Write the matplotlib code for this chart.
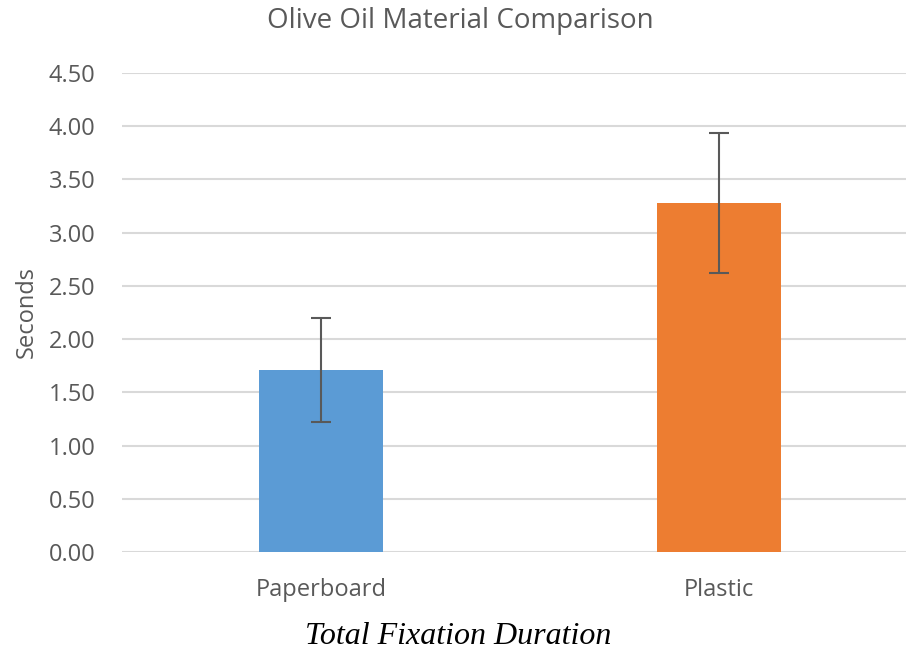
import matplotlib
matplotlib.use("Agg")
import matplotlib.pyplot as plt

categories = ["Paperboard", "Plastic"]
values = [1.71, 3.28]
errors = [0.49, 0.66]
colors = ["#5B9BD5", "#ED7D31"]
yticks = [0.0, 0.5, 1.0, 1.5, 2.0, 2.5, 3.0, 3.5, 4.0, 4.5]

fig = plt.figure(figsize=(9.06, 6.51), dpi=100)
ax = fig.add_axes([122/906, 1-552/651, 796/906, (552-73)/651])

x = list(range(len(categories)))
ax.bar(x, values, width=0.31, color=colors, zorder=2)
ax.errorbar(x, values, yerr=errors, fmt="none", ecolor="#595959",
            elinewidth=1.5, capsize=7, capthick=1.5, zorder=3)

ax.set_xlim(-0.5, 1.5)
ax.set_ylim(0, 4.5)
ax.set_yticks(yticks)
ax.set_yticklabels([f"{v:.2f}" for v in yticks])
ax.set_xticks(x)
ax.set_xticklabels(categories)
ax.grid(axis="y", color="#D9D9D9", linewidth=1.5, zorder=0)
for s in ax.spines.values():
    s.set_visible(False)
ax.tick_params(axis="y", length=0, labelsize=17, labelcolor="#595959", pad=19)
ax.tick_params(axis="x", length=0, labelsize=17, labelcolor="#595959", pad=19)
for lab in ax.get_xticklabels() + ax.get_yticklabels():
    lab.set_family("Open Sans")
ax.set_ylabel("Seconds", fontsize=17, color="#595959", family="Open Sans")
ax.yaxis.set_label_coords(-0.105, 0.5)

fig.text(460/906, 1-21/651, "Olive Oil Material Comparison", ha="center", va="center",
         fontsize=20, color="#595959", family="Open Sans")
fig.text(458/906, 1-636/651, "Total Fixation Duration", ha="center", va="center",
         fontsize=23, style="italic", family="Liberation Serif", color="black")

fig.savefig("out.png", dpi=100)
